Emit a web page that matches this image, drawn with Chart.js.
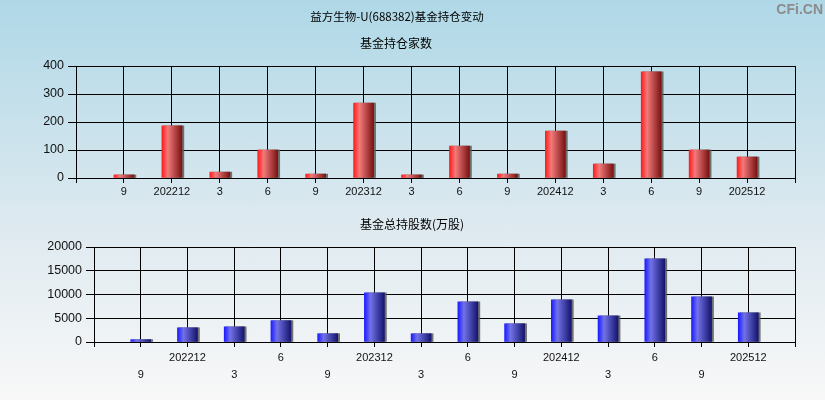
<!DOCTYPE html>
<html>
<head>
<meta charset="utf-8">
<script src="https://cdn.jsdelivr.net/npm/chart.js@4/dist/chart.umd.min.js"></script>
<style>
  body { margin: 0; width: 825px; height: 400px; overflow: hidden; position: relative;
         background: linear-gradient(#afd8e7, #dfeaf0 58%, #f8f8f8); }
  .caixa { position: absolute; left: 0; width: 825px; height: 200px; }
</style>
</head>
<body>
<div class="caixa" style="top:0"><canvas id="chartJiaShu"></canvas></div>
<div class="caixa" style="top:200px"><canvas id="chartGuShu"></canvas></div>
<script>
// Dados
const periodos = ["9", "202212", "3", "6", "9", "202312", "3", "6", "9", "202412", "3", "6", "9", "202512"];
const jiaShu = [11, 186, 21, 100, 14, 268, 11, 114, 14, 168, 50, 379, 100, 75];      // 基金持仓家数
const guShu = [500, 3000, 3200, 4500, 1750, 10350, 1750, 8450, 3850, 8900, 5500, 17500, 9500, 6150]; // 万股
const ticksJiaShu = [0, 100, 200, 300, 400];
const ticksGuShu = [0, 5000, 10000, 15000, 20000];

// eixo com uma posição vazia em cada ponta
const labelsTopo = ["", ...periodos, ""];
const labelsBaixo = ["", ...periodos.map((p, i) => (i % 2 === 0 ? ["", p] : [p])), ""];
const pad = (arr) => [null, ...arr, null];

const fonteEixo = "'Liberation Sans', Arial, sans-serif";
const fonteCJK = "'Noto Sans CJK SC', sans-serif";

// degradê horizontal em cada barra
function degrade(cores) {
  return function (ctx) {
    const x = ctx.chart.scales.x;
    if (!x || ctx.dataIndex == null) return cores[1];
    const cx = x.getPixelForValue(ctx.dataIndex);
    if (!isFinite(cx)) return cores[1];
    const g = ctx.chart.ctx.createLinearGradient(cx - 10, 0, cx + 10, 0);
    g.addColorStop(0, cores[0]);
    g.addColorStop(0.3, cores[1]);
    g.addColorStop(1, cores[2]);
    return g;
  };
}

// sombra cinza à direita das barras
const sombra = {
  id: "sombra",
  beforeDatasetsDraw(chart) {
    const c = chart.ctx;
    c.save();
    c.shadowColor = "rgba(90,90,90,0.85)";
    c.shadowOffsetX = 2;
    c.shadowOffsetY = 0;
    c.shadowBlur = 0;
  },
  afterDatasetsDraw(chart) {
    chart.ctx.restore();
  },
};

// títulos escritos em posição livre
const textos = {
  id: "textos",
  afterDraw(chart, args, opts) {
    const c = chart.ctx;
    (opts.itens || []).forEach((t) => {
      c.save();
      c.font = t.font;
      c.fillStyle = t.cor || "#000";
      c.textAlign = t.align || "center";
      c.textBaseline = "middle";
      c.fillText(t.texto, t.x, t.y);
      c.restore();
    });
  },
};

function opcoes(cfg) {
  return {
    responsive: true,
    maintainAspectRatio: false,
    animation: false,
    layout: { padding: { top: cfg.top, right: 30, left: 0, bottom: 0 } },
    plugins: {
      legend: { display: false },
      tooltip: { enabled: false },
      textos: { itens: cfg.textos },
    },
    scales: {
      x: {
        offset: false,
        grid: { color: "#000", lineWidth: 1, offset: false, tickLength: 5, tickColor: "#000" },
        border: { color: "#000", width: 1 },
        ticks: {
          autoSkip: false, maxRotation: 0, minRotation: 0, padding: 2,
          color: "#111", font: { family: fonteEixo, size: 11, lineHeight: cfg.lh },
        },
        afterFit: (s) => { s.height = cfg.alturaX; },
      },
      y: {
        min: 0,
        max: cfg.max,
        afterBuildTicks: (s) => { s.ticks = cfg.ticks.map((v) => ({ value: v })); },
        grid: { color: "#000", lineWidth: 1, tickLength: 8, tickColor: "#000" },
        border: { color: "#000", width: 1 },
        ticks: {
          padding: 4, color: "#111", font: { family: fonteEixo, size: 12.5 },
          callback: (v) => String(v), // sem separador de milhar
        },
        afterFit: (s) => { s.width = cfg.larguraY; },
      },
    },
  };
}

new Chart(document.getElementById("chartJiaShu"), {
  type: "bar",
  data: {
    labels: labelsTopo,
    datasets: [{
      data: pad(jiaShu),
      barThickness: 20,
      backgroundColor: degrade(["#ff1c1c", "#f27a7a", "#7a1212"]),
      borderWidth: 0,
    }],
  },
  options: opcoes({
    top: 66, max: 400, ticks: ticksJiaShu, larguraY: 76, alturaX: 22, lh: 1.2,
    textos: [
      { texto: "益方生物-U(688382)基金持仓变动", x: 397, y: 17, font: "11.5px " + fonteCJK },
      { texto: "基金持仓家数", x: 396, y: 43, font: "12px " + fonteCJK },
      { texto: "CFi.CN", x: 823, y: 10, align: "right", cor: "#8c8c8c", font: "bold 14px " + fonteEixo },
    ],
  }),
  plugins: [sombra, textos],
});

new Chart(document.getElementById("chartGuShu"), {
  type: "bar",
  data: {
    labels: labelsBaixo,
    datasets: [{
      data: pad(guShu),
      barThickness: 20,
      backgroundColor: degrade(["#1c1cff", "#7272e8", "#14146e"]),
      borderWidth: 0,
    }],
  },
  options: opcoes({
    top: 47, max: 20000, ticks: ticksGuShu, larguraY: 94, alturaX: 58, lh: 1.55,
    textos: [
      { texto: "基金总持股数(万股)", x: 412, y: 24, font: "12px " + fonteCJK },
    ],
  }),
  plugins: [sombra, textos],
});
</script>
</body>
</html>
